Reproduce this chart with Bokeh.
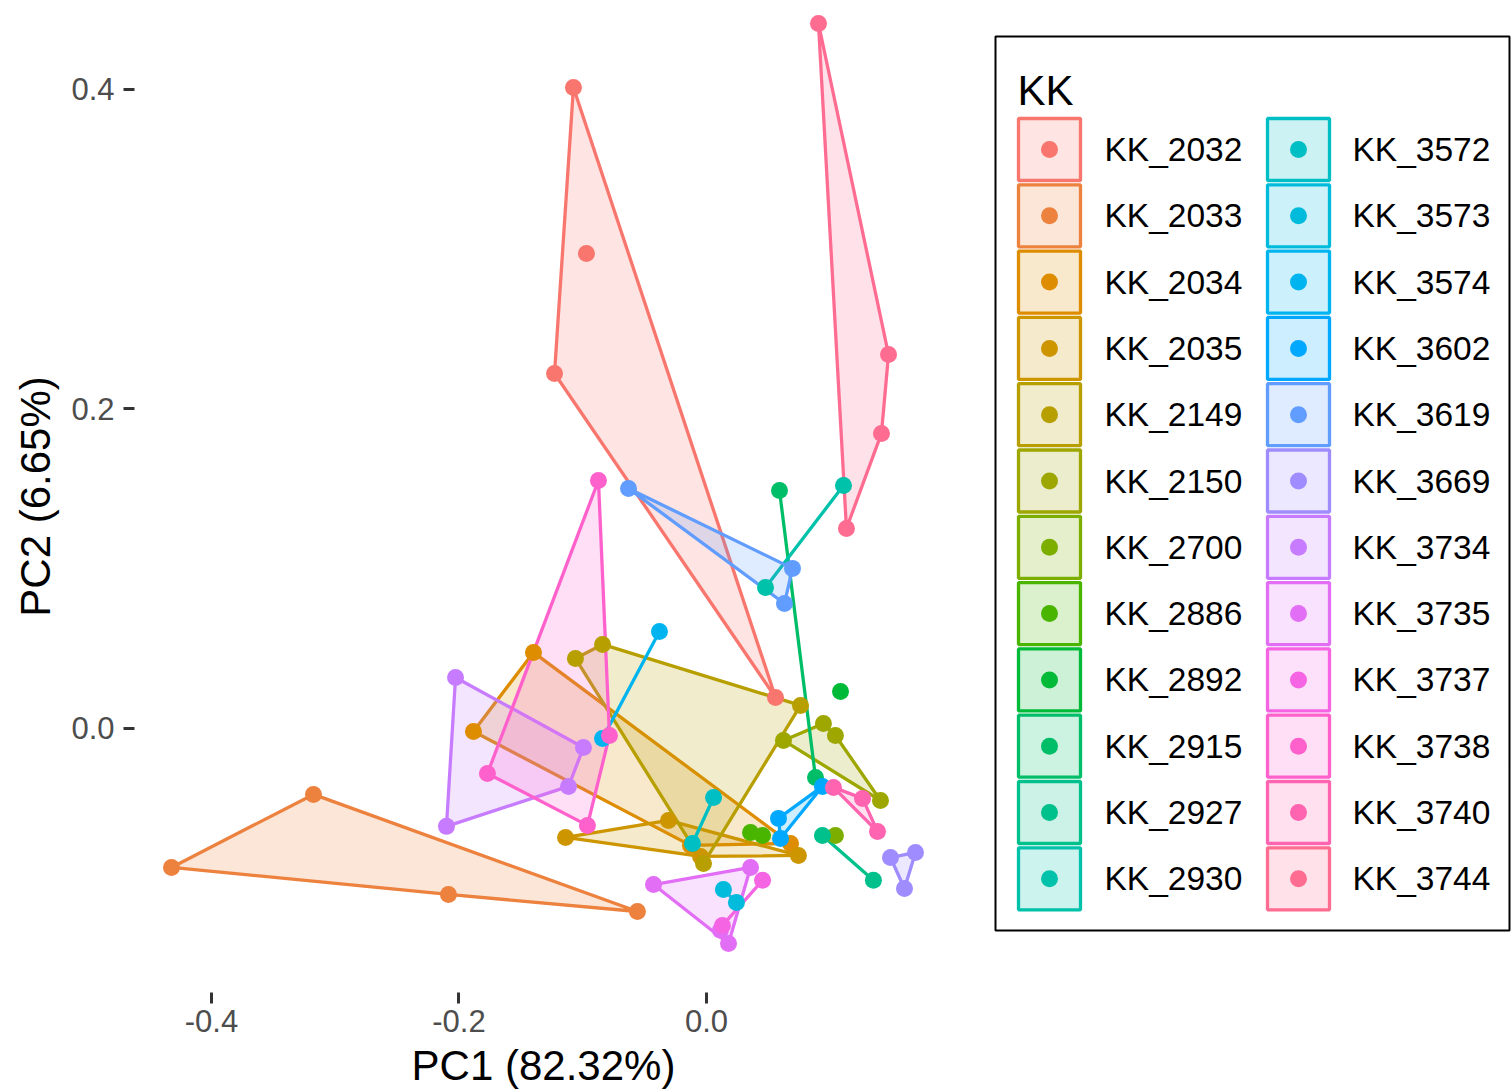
import math
from bokeh.plotting import figure
from bokeh.models import Range1d, FixedTicker, NumeralTickFormatter
from bokeh.layouts import row
from bokeh.core.properties import value
from bokeh.embed import file_html
from bokeh.resources import INLINE

# ---------------- data ----------------
groups = ["KK_2032", "KK_2033", "KK_2034", "KK_2035", "KK_2149", "KK_2150",
          "KK_2700", "KK_2886", "KK_2892", "KK_2915", "KK_2927", "KK_2930",
          "KK_3572", "KK_3573", "KK_3574", "KK_3602", "KK_3619", "KK_3669",
          "KK_3734", "KK_3735", "KK_3737", "KK_3738", "KK_3740", "KK_3744"]

sample_kk = (["KK_2032"] * 4 + ["KK_2033"] * 4 + ["KK_2034"] * 4 + ["KK_2035"] * 4 +
             ["KK_2149"] * 4 + ["KK_2150"] * 4 + ["KK_2700"] * 1 + ["KK_2886"] * 2 +
             ["KK_2892"] * 1 + ["KK_2915"] * 2 + ["KK_2927"] * 2 + ["KK_2930"] * 2 +
             ["KK_3572"] * 2 + ["KK_3573"] * 2 + ["KK_3574"] * 2 + ["KK_3602"] * 3 +
             ["KK_3619"] * 3 + ["KK_3669"] * 3 + ["KK_3734"] * 4 + ["KK_3735"] * 4 +
             ["KK_3737"] * 2 + ["KK_3738"] * 4 + ["KK_3740"] * 3 + ["KK_3744"] * 4)

pc1 = [-0.1075, -0.0970, -0.1228, 0.0558,
       -0.4323, -0.3176, -0.2085, -0.0558,
       -0.1398, -0.1883, -0.0129, 0.0679,
       -0.1139, -0.0307, 0.0743, -0.0048,
       -0.1059, -0.0840, 0.0760, -0.0024,
       0.0622, 0.0945, 0.1042, 0.1406,
       0.1042,
       0.0356, 0.0453,
       0.1083,
       0.0590, 0.0881,
       0.0937, 0.1349,
       0.1107, 0.0477,
       0.0057, -0.0113,
       0.0137, 0.0242,
       -0.0380, -0.0840,
       0.0582, 0.0937, 0.0598,
       -0.0630, 0.0695, 0.0630,
       0.1487, 0.1689, 0.1600,
       -0.2028, -0.0994, -0.1115, -0.2101,
       -0.0428, 0.0356, 0.0178, 0.0113,
       0.0453, 0.0129,
       -0.0873, -0.0784, -0.0962, -0.1770,
       0.1026, 0.1261, 0.1382,
       0.0905, 0.1471, 0.1414, 0.1131]

pc2 = [0.4013, 0.2973, 0.2222, 0.0194,
       -0.0870, -0.0413, -0.1039, -0.1146,
       0.0476, -0.0019, -0.0732, -0.0720,
       -0.0682, -0.0576, -0.0795, -0.0801,
       0.0438, 0.0526, 0.0144, -0.0845,
       -0.0075, 0.0031, -0.0044, -0.0451,
       -0.0670,
       -0.0651, -0.0670,
       0.0232,
       0.1490, -0.0307,
       -0.0670, -0.0951,
       0.1521, 0.0883,
       -0.0432, -0.0720,
       -0.1008, -0.1089,
       0.0607, -0.0063,
       -0.0563, -0.0363, -0.0689,
       0.1502, 0.1002, 0.0782,
       -0.0808, -0.0776, -0.1002,
       0.0319, -0.0119, -0.0363, -0.0613,
       -0.0977, -0.0870, -0.1346, -0.1264,
       -0.0951, -0.1233,
       0.1552, -0.0044, -0.0607, -0.0282,
       -0.0369, -0.0438, -0.0645,
       0.4413, 0.2341, 0.1847, 0.1252]

x_ticks = [-0.4, -0.2, 0.0]
x_tick_labels = ["-0.4", "-0.2", "0.0"]
y_ticks = [0.0, 0.2, 0.4]
y_tick_labels = ["0.0", "0.2", "0.4"]
x_title = "PC1 (82.32%)"
y_title = "PC2 (6.65%)"
legend_title = "KK"

# ---------------- styles ----------------
FONT = "Liberation Sans"


def hue_hex(h, c=100.0, l=65.0):
    """ggplot2 default hue palette colour (polar CIE-Luv -> sRGB)."""
    xn, yn, zn = 95.047, 100.0, 108.883
    hr = math.radians(h)
    U, V = c * math.cos(hr), c * math.sin(hr)
    Y = yn * ((l + 16.0) / 116.0) ** 3
    den = xn + 15 * yn + 3 * zn
    un, vn = 4 * xn / den, 9 * yn / den
    u = U / (13 * l) + un
    v = V / (13 * l) + vn
    X = 9.0 * Y * u / (4 * v)
    Z = -X / 3.0 - 5 * Y + 3 * Y / v
    X, Y, Z = X / 100, Y / 100, Z / 100
    r = 3.240479 * X - 1.537150 * Y - 0.498535 * Z
    g = -0.969256 * X + 1.875992 * Y + 0.041556 * Z
    b = 0.055648 * X - 0.204043 * Y + 1.057311 * Z

    def gam(t):
        t = 1.055 * t ** (1 / 2.4) - 0.055 if t > 0.0031308 else 12.92 * t
        return min(max(t, 0.0), 1.0)
    return "#%02X%02X%02X" % tuple(int(round(255 * gam(t))) for t in (r, g, b))


n = len(groups)
colors = [hue_hex(15 + 360.0 * i / n) for i in range(n)]
color_of = dict(zip(groups, colors))


def convex_hull(pts):
    pts = sorted(set(pts))
    if len(pts) <= 2:
        return pts

    def cross(o, a, b):
        return (a[0] - o[0]) * (b[1] - o[1]) - (a[1] - o[1]) * (b[0] - o[0])
    lower = []
    for q_ in pts:
        while len(lower) >= 2 and cross(lower[-2], lower[-1], q_) <= 0:
            lower.pop()
        lower.append(q_)
    upper = []
    for q_ in reversed(pts):
        while len(upper) >= 2 and cross(upper[-2], upper[-1], q_) <= 0:
            upper.pop()
        upper.append(q_)
    return lower[:-1] + upper[:-1]


# ---------------- main plot ----------------
p = figure(width=980, height=1091,
           x_range=Range1d(-0.4622, 0.1988), y_range=Range1d(-0.1653, 0.4557),
           output_backend="svg", toolbar_location=None,
           min_border_left=134, min_border_right=28, min_border_top=0, min_border_bottom=99,
           x_axis_label=x_title, y_axis_label=y_title)
p.grid.visible = False
p.outline_line_color = None
p.background_fill_color = "white"

p.xaxis.ticker = FixedTicker(ticks=x_ticks)
p.yaxis.ticker = FixedTicker(ticks=y_ticks)
p.xaxis.formatter = NumeralTickFormatter(format="0.0")
p.yaxis.formatter = NumeralTickFormatter(format="0.0")
p.xaxis.major_label_overrides = dict(zip(x_ticks, x_tick_labels))
p.yaxis.major_label_overrides = dict(zip(y_ticks, y_tick_labels))

for ax in (p.xaxis[0], p.yaxis[0]):
    ax.axis_line_color = None
    ax.major_tick_line_color = "#333333"
    ax.major_tick_line_width = 3
    ax.major_tick_in = 0
    ax.major_tick_out = 11
    ax.minor_tick_line_color = None
    ax.major_label_text_font = FONT
    ax.major_label_text_font_size = "31px"
    ax.major_label_text_color = "#4D4D4D"
    ax.axis_label_text_font = FONT
    ax.axis_label_text_font_size = "42px"
    ax.axis_label_text_font_style = "normal"
    ax.axis_label_text_color = "black"
p.xaxis[0].major_label_standoff = 6
p.xaxis[0].axis_label_standoff = 7
p.yaxis[0].major_label_standoff = 9
p.yaxis[0].axis_label_standoff = 9

# hulls first, then points (as ggplot layers)
for g in groups:
    pts = [(x, y) for x, y, k in zip(pc1, pc2, sample_kk) if k == g]
    hull = convex_hull(pts)
    if len(hull) >= 2:
        p.patch(x=[h[0] for h in hull], y=[h[1] for h in hull],
                fill_color=color_of[g], fill_alpha=0.2,
                line_color=color_of[g], line_width=3.3, line_join="round")
for g in groups:
    xs = [x for x, k in zip(pc1, sample_kk) if k == g]
    ys = [y for y, k in zip(pc2, sample_kk) if k == g]
    p.scatter(xs, ys, size=17, fill_color=color_of[g], line_color=None)

# ---------------- legend panel ----------------
# the row aligns this panel's frame with the main frame (top 0, height 992)
q = figure(width=532, height=1091, x_range=Range1d(980, 1512), y_range=Range1d(992, 0),
           output_backend="svg", toolbar_location=None, min_border=0,
           x_axis_type=None, y_axis_type=None)
q.grid.visible = False
q.outline_line_color = None

BOX_L, BOX_R, BOX_T, BOX_B = 995, 1509, 36, 930
KEY_X = [1049, 1298]
LAB_X = [1104, 1352]
ROW0, PITCH, NROW = 149, 66.3, 12

kx = [KEY_X[i // NROW] for i in range(n)]
ky = [ROW0 + (i % NROW) * PITCH for i in range(n)]
lx = [LAB_X[i // NROW] for i in range(n)]

q.quad(left=[BOX_L], right=[BOX_R], top=[BOX_T], bottom=[BOX_B],
       fill_color="white", line_color="black", line_width=2)
q.rect(x=kx, y=ky, width=62, height=62, fill_color=colors, fill_alpha=0.2,
       line_color=colors, line_width=3.3)
q.scatter(x=kx, y=ky, size=17, fill_color=colors, line_color=None)
q.text(x=lx, y=ky, text=groups, text_font=value(FONT), text_font_size="33.5px",
       text_baseline="middle", text_align="left", text_color="black")
q.text(x=[1017], y=[90], text=[legend_title], text_font=value(FONT), text_font_size="42px",
       text_baseline="alphabetic", text_align="left", text_color="black")

layout = row(p, q)
open("out.html", "w").write(file_html(layout, INLINE))
